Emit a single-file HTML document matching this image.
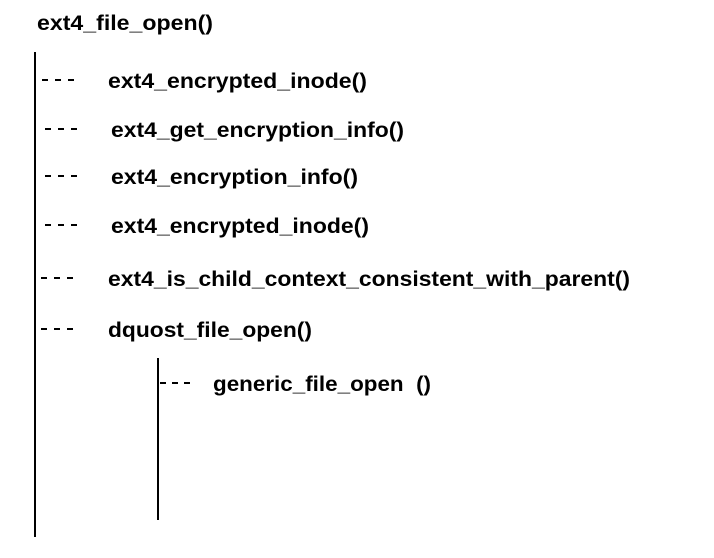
<!DOCTYPE html>
<html><head><meta charset="utf-8"><style>
html,body{margin:0;padding:0;background:#fff;}
svg{display:block;}
text{font-family:"Liberation Sans",sans-serif;font-weight:bold;font-size:21px;fill:#000;}
</style></head><body>
<svg width="714" height="558" viewBox="0 0 714 558" xmlns="http://www.w3.org/2000/svg">
<rect width="714" height="558" fill="#fff"/>
<text x="37" y="30" textLength="176" lengthAdjust="spacingAndGlyphs">ext4_file_open()</text>
<line x1="35" y1="52" x2="35" y2="537" stroke="#000" stroke-width="2"/>
<line x1="158" y1="358" x2="158" y2="520" stroke="#000" stroke-width="2"/>
<g stroke="#000" stroke-width="2" stroke-dasharray="6,7">
<line x1="42" y1="80" x2="80" y2="80"/>
<line x1="45" y1="129" x2="83" y2="129"/>
<line x1="45" y1="176" x2="83" y2="176"/>
<line x1="45" y1="225" x2="83" y2="225"/>
<line x1="41" y1="278" x2="79" y2="278"/>
<line x1="41" y1="329" x2="79" y2="329"/>
<line x1="160" y1="383" x2="192" y2="383" stroke-dasharray="6,6"/>
</g>
<text x="108" y="88" textLength="259" lengthAdjust="spacingAndGlyphs">ext4_encrypted_inode()</text>
<text x="111" y="137" textLength="293" lengthAdjust="spacingAndGlyphs">ext4_get_encryption_info()</text>
<text x="111" y="184" textLength="247" lengthAdjust="spacingAndGlyphs">ext4_encryption_info()</text>
<text x="111" y="233" textLength="258" lengthAdjust="spacingAndGlyphs">ext4_encrypted_inode()</text>
<text x="108" y="286" textLength="522" lengthAdjust="spacingAndGlyphs">ext4_is_child_context_consistent_with_parent()</text>
<text x="108" y="337" textLength="204" lengthAdjust="spacingAndGlyphs">dquost_file_open()</text>
<text x="213" y="391" textLength="218" lengthAdjust="spacingAndGlyphs">generic_file_open&#160;&#160;()</text>
</svg>
</body></html>
